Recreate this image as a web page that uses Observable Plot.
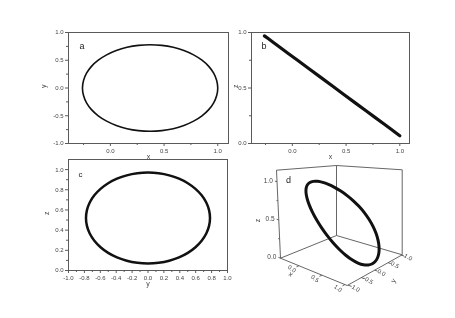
<!DOCTYPE html>
<html><head><meta charset="utf-8">
<script src="https://cdn.jsdelivr.net/npm/d3@7"></script>
<script src="https://cdn.jsdelivr.net/npm/@observablehq/plot@0.6"></script>
<style>
body{margin:0;background:#fff;}
#fig{position:relative;width:455px;height:318px;background:#fff;overflow:hidden;}
#fig svg{position:absolute;overflow:visible;will-change:transform;}
</style></head><body><div id="fig"></div>
<script>
// ---- data (trajectory samples around the closed orbit) ----
const trajX = [1.000,0.990,0.962,0.916,0.853,0.775,0.685,0.585,0.479,0.370,0.261,0.155,0.055,-0.035,-0.113,-0.176,-0.222,-0.250,-0.260,
               -0.250,-0.222,-0.176,-0.113,-0.035,0.055,0.155,0.261,0.370,0.479,0.585,0.685,0.775,0.853,0.916,0.962,0.990];
const trajY = [0.000,0.135,0.267,0.390,0.501,0.597,0.675,0.733,0.768,0.780,0.768,0.733,0.675,0.597,0.501,0.390,0.267,0.135,0.000,
               -0.135,-0.267,-0.390,-0.501,-0.597,-0.675,-0.733,-0.768,-0.780,-0.768,-0.733,-0.675,-0.597,-0.501,-0.390,-0.267,-0.135];
const trajZ = [0.070,0.077,0.097,0.130,0.175,0.231,0.295,0.366,0.442,0.520,0.598,0.674,0.745,0.809,0.865,0.910,0.943,0.963,0.970,
               0.963,0.943,0.910,0.865,0.809,0.745,0.674,0.598,0.520,0.442,0.366,0.295,0.231,0.175,0.130,0.097,0.077];
const panelLetters = ["a","b","c","d"];
const axisNames = ["x","y","z"];
// tick values
const ticksX = [0.0,0.5,1.0];
const minorX = [-0.25,0.25,0.75];
const ticksYa = [-1.0,-0.5,0.0,0.5,1.0];
const minorYa = [-0.75,-0.25,0.25,0.75];
const ticksZb = [0.0,0.5,1.0];
const minorZb = [0.25,0.75];
const ticksYc = [-1.0,-0.8,-0.6,-0.4,-0.2,0.0,0.2,0.4,0.6,0.8,1.0];
const minorYc = [-0.9,-0.7,-0.5,-0.3,-0.1,0.1,0.3,0.5,0.7,0.9];
const ticksZc = [0.0,0.2,0.4,0.6,0.8,1.0];
const minorZc = [0.1,0.3,0.5,0.7,0.9];
const ticksXd = [0.0,0.5,1.0];
const ticksYd = [-1.0,-0.5,0.0,0.5,1.0];
const ticksZd = [0.0,0.5,1.0];
const minorZd = [0.25,0.75];

const pts = trajX.map((x,i)=>({x, y:trajY[i], z:trajZ[i]}));
const FONT = "Liberation Sans, Arial, sans-serif";
const fmt = d => d.toFixed(1);
const AX = "#5a5a5a", TX = "#444";
const fig = document.getElementById("fig");

function axisMarks(xT, xM, yT, yM){
  return [
    Plot.axisX({ticks:xM, tickSize:2, tickFormat:()=>"", label:null, color:AX}),
    Plot.axisX({ticks:xT, tickSize:3, tickPadding:2, tickFormat:fmt, label:null, fontSize:6, color:TX, stroke:AX}),
    Plot.axisY({ticks:yM, tickSize:2, tickFormat:()=>"", label:null, color:AX}),
    Plot.axisY({ticks:yT, tickSize:3, tickPadding:2, tickFormat:fmt, label:null, fontSize:6, color:TX, stroke:AX}),
    Plot.frame({stroke:AX, strokeWidth:1})
  ];
}
function place(svg, left, top){ svg.style.left = left+"px"; svg.style.top = top+"px"; fig.appendChild(svg); }

// panel a : x-y
place(Plot.plot({
  width:205, height:145, marginLeft:40, marginRight:5, marginTop:10, marginBottom:24,
  style:{fontFamily:FONT, background:"transparent"},
  x:{domain:[-0.39,1.1]}, y:{domain:[-1,1]},
  marks:[
    ...axisMarks(ticksX, minorX, ticksYa, minorYa),
    Plot.line(pts, {x:"x", y:"y", curve:"catmull-rom-closed", stroke:"#111", strokeWidth:1.6}),
    Plot.text([panelLetters[0]], {frameAnchor:"top-left", dx:11, dy:10, fontSize:9, fill:"#222"}),
    Plot.text([axisNames[0]], {frameAnchor:"bottom", dy:15, fontSize:7, fill:TX}),
    Plot.text([axisNames[1]], {frameAnchor:"left", dx:-25, rotate:-90, fontSize:7, fill:TX})
  ]
}), 28, 22);

// panel b : x-z
place(Plot.plot({
  width:205, height:145, marginLeft:23, marginRight:24, marginTop:10, marginBottom:24,
  style:{fontFamily:FONT, background:"transparent"},
  x:{domain:[-0.38,1.09]}, y:{domain:[0,1]},
  marks:[
    ...axisMarks(ticksX, minorX, ticksZb, minorZb),
    Plot.line(pts, {x:"x", y:"z", curve:"linear-closed", stroke:"#111", strokeWidth:3.2}),
    Plot.text([panelLetters[1]], {frameAnchor:"top-left", dx:10, dy:10, fontSize:9, fill:"#222"}),
    Plot.text([axisNames[0]], {frameAnchor:"bottom", dy:15, fontSize:7, fill:TX}),
    Plot.text([axisNames[2]], {frameAnchor:"left", dx:-16, rotate:-90, fontSize:7, fill:TX})
  ]
}), 228, 22);

// panel c : y-z
place(Plot.plot({
  width:205, height:145, marginLeft:40, marginRight:6, marginTop:10, marginBottom:24,
  style:{fontFamily:FONT, background:"transparent"},
  x:{domain:[-1,1]}, y:{domain:[0,1.1]},
  marks:[
    ...axisMarks(ticksYc, minorYc, ticksZc, minorZc),
    Plot.line(pts, {x:"y", y:"z", curve:"catmull-rom-closed", stroke:"#111", strokeWidth:2.5}),
    Plot.text([panelLetters[2]], {frameAnchor:"top-left", dx:10, dy:12, fontSize:8, fill:"#222"}),
    Plot.text([axisNames[1]], {frameAnchor:"bottom", dy:15, fontSize:7, fill:TX}),
    Plot.text([axisNames[2]], {frameAnchor:"left", dx:-22, rotate:-90, fontSize:7, fill:TX})
  ]
}), 28, 149);

// panel d : 3D view (oblique projection onto the page)
const dom = {x:[-0.4,1.05], y:[-1.03,1.03], z:[0,1.15]};
const OX = 240, OY = 150; // svg offset
const corner = {L:[280,257.7], F:[346.7,285], R:[401.7,254.3], B:[336,235]};
const upv = {L:[-4,-88], F:[-2,-100], R:[0,-85], B:[0,-70]};
function proj(x,y,z){
  const u=(x-dom.x[0])/(dom.x[1]-dom.x[0]), v=(y-dom.y[0])/(dom.y[1]-dom.y[0]), w=(z-dom.z[0])/(dom.z[1]-dom.z[0]);
  const a=(1-u)*(1-v), b=u*(1-v), c=u*v, d=(1-u)*v;
  const px=a*corner.L[0]+b*corner.F[0]+c*corner.R[0]+d*corner.B[0] + w*(a*upv.L[0]+b*upv.F[0]+c*upv.R[0]+d*upv.B[0]);
  const py=a*corner.L[1]+b*corner.F[1]+c*corner.R[1]+d*corner.B[1] + w*(a*upv.L[1]+b*upv.F[1]+c*upv.R[1]+d*upv.B[1]);
  return [px-OX, py-OY];
}
const [x0,x1]=dom.x, [y0,y1]=dom.y, [z0,z1]=dom.z;
const edges3 = [
  [[x0,y0,z0],[x1,y0,z0]], [[x1,y0,z0],[x1,y1,z0]], [[x0,y0,z0],[x0,y1,z0]], [[x0,y1,z0],[x1,y1,z0]],
  [[x0,y0,z0],[x0,y0,z1]], [[x0,y1,z0],[x0,y1,z1]], [[x1,y1,z0],[x1,y1,z1]],
  [[x0,y0,z1],[x0,y1,z1]], [[x0,y1,z1],[x1,y1,z1]]
];
const seg = (p,q) => { const A=proj(...p), B=proj(...q); return {x1:A[0], y1:A[1], x2:B[0], y2:B[1]}; };
const edges = edges3.map(([p,q]) => seg(p,q));
const ticksD = [
  ...ticksZd.map(z => seg([x0,y0,z],[x0-0.045,y0,z])),
  ...minorZd.map(z => seg([x0,y0,z],[x0-0.03,y0,z])),
  ...ticksXd.map(x => seg([x,y0,z0],[x,y0-0.09,z0])),
  ...ticksYd.map(y => seg([x1,y,z0],[x1+0.06,y,z0]))
];
const projPts = pts.map(p => { const [px,py]=proj(p.x,p.y,p.z); return {px,py}; });
const zLab = ticksZd.map(z => { const [px,py]=proj(x0-0.09,y0,z); return {px,py,t:fmt(z)}; });
const xLab = ticksXd.map(x => { const [px,py]=proj(x,y0-0.26,z0); return {px,py,t:fmt(x)}; });
const yLab = ticksYd.map(y => { const [px,py]=proj(x1+0.15,y,z0); return {px,py,t:fmt(y)}; });
const dLetter = (() => { const [px,py]=proj(x0,y0,z1); return [{px:px+12,py:py+10,t:panelLetters[3]}]; })();
const zName = (() => { const [px,py]=proj(x0-0.45,y0,0.4); return [{px,py,t:axisNames[2]}]; })();
const xName = (() => { const [px,py]=proj(0.12,y0-0.5,z0); return [{px,py,t:axisNames[0]}]; })();
const yName = (() => { const [px,py]=proj(x1+0.5,-0.15,z0); return [{px,py,t:axisNames[1]}]; })();

place(Plot.plot({
  width:210, height:165, margin:0,
  style:{fontFamily:FONT, background:"transparent"},
  x:{type:"identity", axis:null}, y:{type:"identity", axis:null},
  marks:[
    Plot.link(edges, {x1:"x1", y1:"y1", x2:"x2", y2:"y2", stroke:"#555", strokeWidth:0.9}),
    Plot.link(ticksD, {x1:"x1", y1:"y1", x2:"x2", y2:"y2", stroke:"#555", strokeWidth:0.9}),
    Plot.line(projPts, {x:"px", y:"py", curve:"catmull-rom-closed", stroke:"#111", strokeWidth:3}),
    Plot.text(zLab, {x:"px", y:"py", text:"t", textAnchor:"end", fontSize:6.5, fill:TX}),
    Plot.text(xLab, {x:"px", y:"py", text:"t", rotate:35, fontSize:6, fill:TX}),
    Plot.text(yLab, {x:"px", y:"py", text:"t", rotate:30, fontSize:6, fill:TX}),
    Plot.text(dLetter, {x:"px", y:"py", text:"t", fontSize:9, fill:"#222"}),
    Plot.text(zName, {x:"px", y:"py", text:"t", rotate:-90, fontSize:7, fill:TX}),
    Plot.text(xName, {x:"px", y:"py", text:"t", rotate:35, fontSize:7, fill:TX}),
    Plot.text(yName, {x:"px", y:"py", text:"t", rotate:-60, fontSize:7, fill:TX})
  ]
}), OX, OY);
</script></body></html>
